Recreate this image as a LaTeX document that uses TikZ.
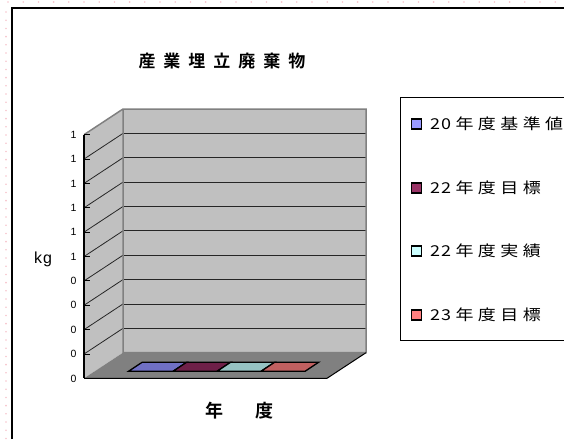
\documentclass[tikz,border=0pt]{standalone}
\usepackage{fontspec}
\newfontfamily\cjk{Noto Sans CJK JP}
\newfontfamily\cjkb{Noto Sans CJK JP Bold}
\newfontfamily\lgf[FakeStretch=1.2]{Noto Sans CJK JP}
\newfontfamily\tickf{Liberation Sans}
\definecolor{wallgray}{HTML}{C0C0C0}
\definecolor{floorgray}{HTML}{808080}
\definecolor{edgegray}{HTML}{808080}
\definecolor{dotpink}{HTML}{F6C4CC}
\definecolor{sA}{HTML}{9999FF}
\definecolor{sB}{HTML}{993366}
\definecolor{sC}{HTML}{CCFFFF}
\definecolor{sD}{HTML}{FF8080}
\definecolor{tA}{HTML}{7070C4}
\definecolor{tB}{HTML}{6E2048}
\definecolor{tC}{HTML}{96C2C2}
\definecolor{tD}{HTML}{C06060}
\tikzset{
  wall/.style={fill=wallgray},
  walledge/.style={draw=edgegray,line width=1.5pt},
  gridln/.style={draw=black!85,line width=0.8pt},
  bartop/.style={draw=black,line width=1.3pt,line join=miter},
  ticklab/.style={font=\tickf\fontsize{10.5}{10.5}\selectfont,inner sep=0pt},
  legsq/.style={draw=black,line width=1.2pt,minimum size=10pt,inner sep=0pt},
  legtxt/.style={font=\lgf\fontsize{15}{15}\selectfont,anchor=west,inner sep=0pt},
}
\newcommand\dk{\kern1pt}
\newcommand\gk{\kern4.4pt}
\begin{document}
\begin{tikzpicture}[x=1pt,y=-1pt]
\useasboundingbox (0,0) rectangle (564,439);
% page grid dots
\foreach \i in {0,...,37} \fill[dotpink] (8+\i*15.2,2) circle[radius=0.9pt];
\foreach \j in {0,...,52} \fill[dotpink] (6,12+\j*8.2) circle[radius=0.9pt];
% chart frame
\draw[line width=2pt] (12,439) -- (12,8) -- (564,8);
% chart geometry
\coordinate (A) at (84,134.7);
\coordinate (B) at (123,109);
\coordinate (C) at (366,109);
\coordinate (D) at (366,352.7);
\coordinate (E) at (123,352.7);
\coordinate (F) at (84,378.3);
\coordinate (G) at (327,378.3);
\fill[wall] (A) -- (B) -- (E) -- (F) -- cycle;
\fill[wall] (B) -- (C) -- (D) -- (E) -- cycle;
\fill[floorgray] (F) -- (E) -- (D) -- (G) -- cycle;
\foreach \k in {1,...,9}{
  \draw[gridln] (123,109+\k*24.37) -- (366,109+\k*24.37);
  \draw[gridln] (84,134.7+\k*24.37) -- (123,109+\k*24.37);
}
\draw[walledge] (A) -- (B) -- (C) -- (D) -- (E) -- (B);
\draw[draw=black,line width=1pt] (F) -- (G) -- (D);
\draw[draw=black,line width=1.2pt] (A) -- (F);
\foreach \k in {0,...,10}{
  \draw[black,line width=1pt] (84,134.7+\k*24.37) -- (90,134.7+\k*24.37);
}
\foreach \k in {0,...,5}
  \node[ticklab] (t\k) at (73.5,134.7+\k*24.37) {1};
\foreach \k in {6,...,10}
  \node[ticklab] (t\k) at (73.5,134.7+\k*24.37) {0};
% flat bars
\coordinate (b0) at (128.5,371.3);
\coordinate (b1) at (173,371.3);
\coordinate (b2) at (217,371.3);
\coordinate (b3) at (261,371.3);
\coordinate (b4) at (305,371.3);
\foreach \a/\b/\c in {b0/b1/tA,b1/b2/tB,b2/b3/tC,b3/b4/tD}
  \filldraw[bartop,fill=\c] (\a) -- (\b) -- ([shift={(13.6,-9)}]\b) -- ([shift={(13.6,-9)}]\a) -- cycle;
% titles
\node[font=\cjkb\fontsize{17}{17}\selectfont,inner sep=0pt] (title) at (222,61)
  {産\kern8pt 業\kern8pt 埋\kern8pt 立\kern8pt 廃\kern8pt 棄\kern8pt 物};
\node[font=\tickf\fontsize{16}{16}\selectfont,inner sep=0pt] (kg) at (43,259) {k\kern1pt g};
\node[font=\cjkb\fontsize{18}{18}\selectfont,inner sep=0pt] (xlab) at (239.5,411) {年\kern33pt 度};
% legend
\draw[black,line width=1pt] (570,97) -- (400,97) -- (400,340) -- (570,340);
\foreach \y/\c/\t [count=\n] in {124/sA/{2\dk{}0\gk{}年\gk{}度\gk{}基\gk{}準\gk{}値},
                      188/sB/{2\dk{}2\gk{}年\gk{}度\gk{}目\gk{}標},
                      251/sC/{2\dk{}2\gk{}年\gk{}度\gk{}実\gk{}績},
                      315/sD/{2\dk{}3\gk{}年\gk{}度\gk{}目\gk{}標}}{
  \node[legsq,fill=\c] (sq\n) at (416.5,\y) {};
  \node[legtxt] (lt\n) at (430,\y) {\t};
}
\end{tikzpicture}
\end{document}
